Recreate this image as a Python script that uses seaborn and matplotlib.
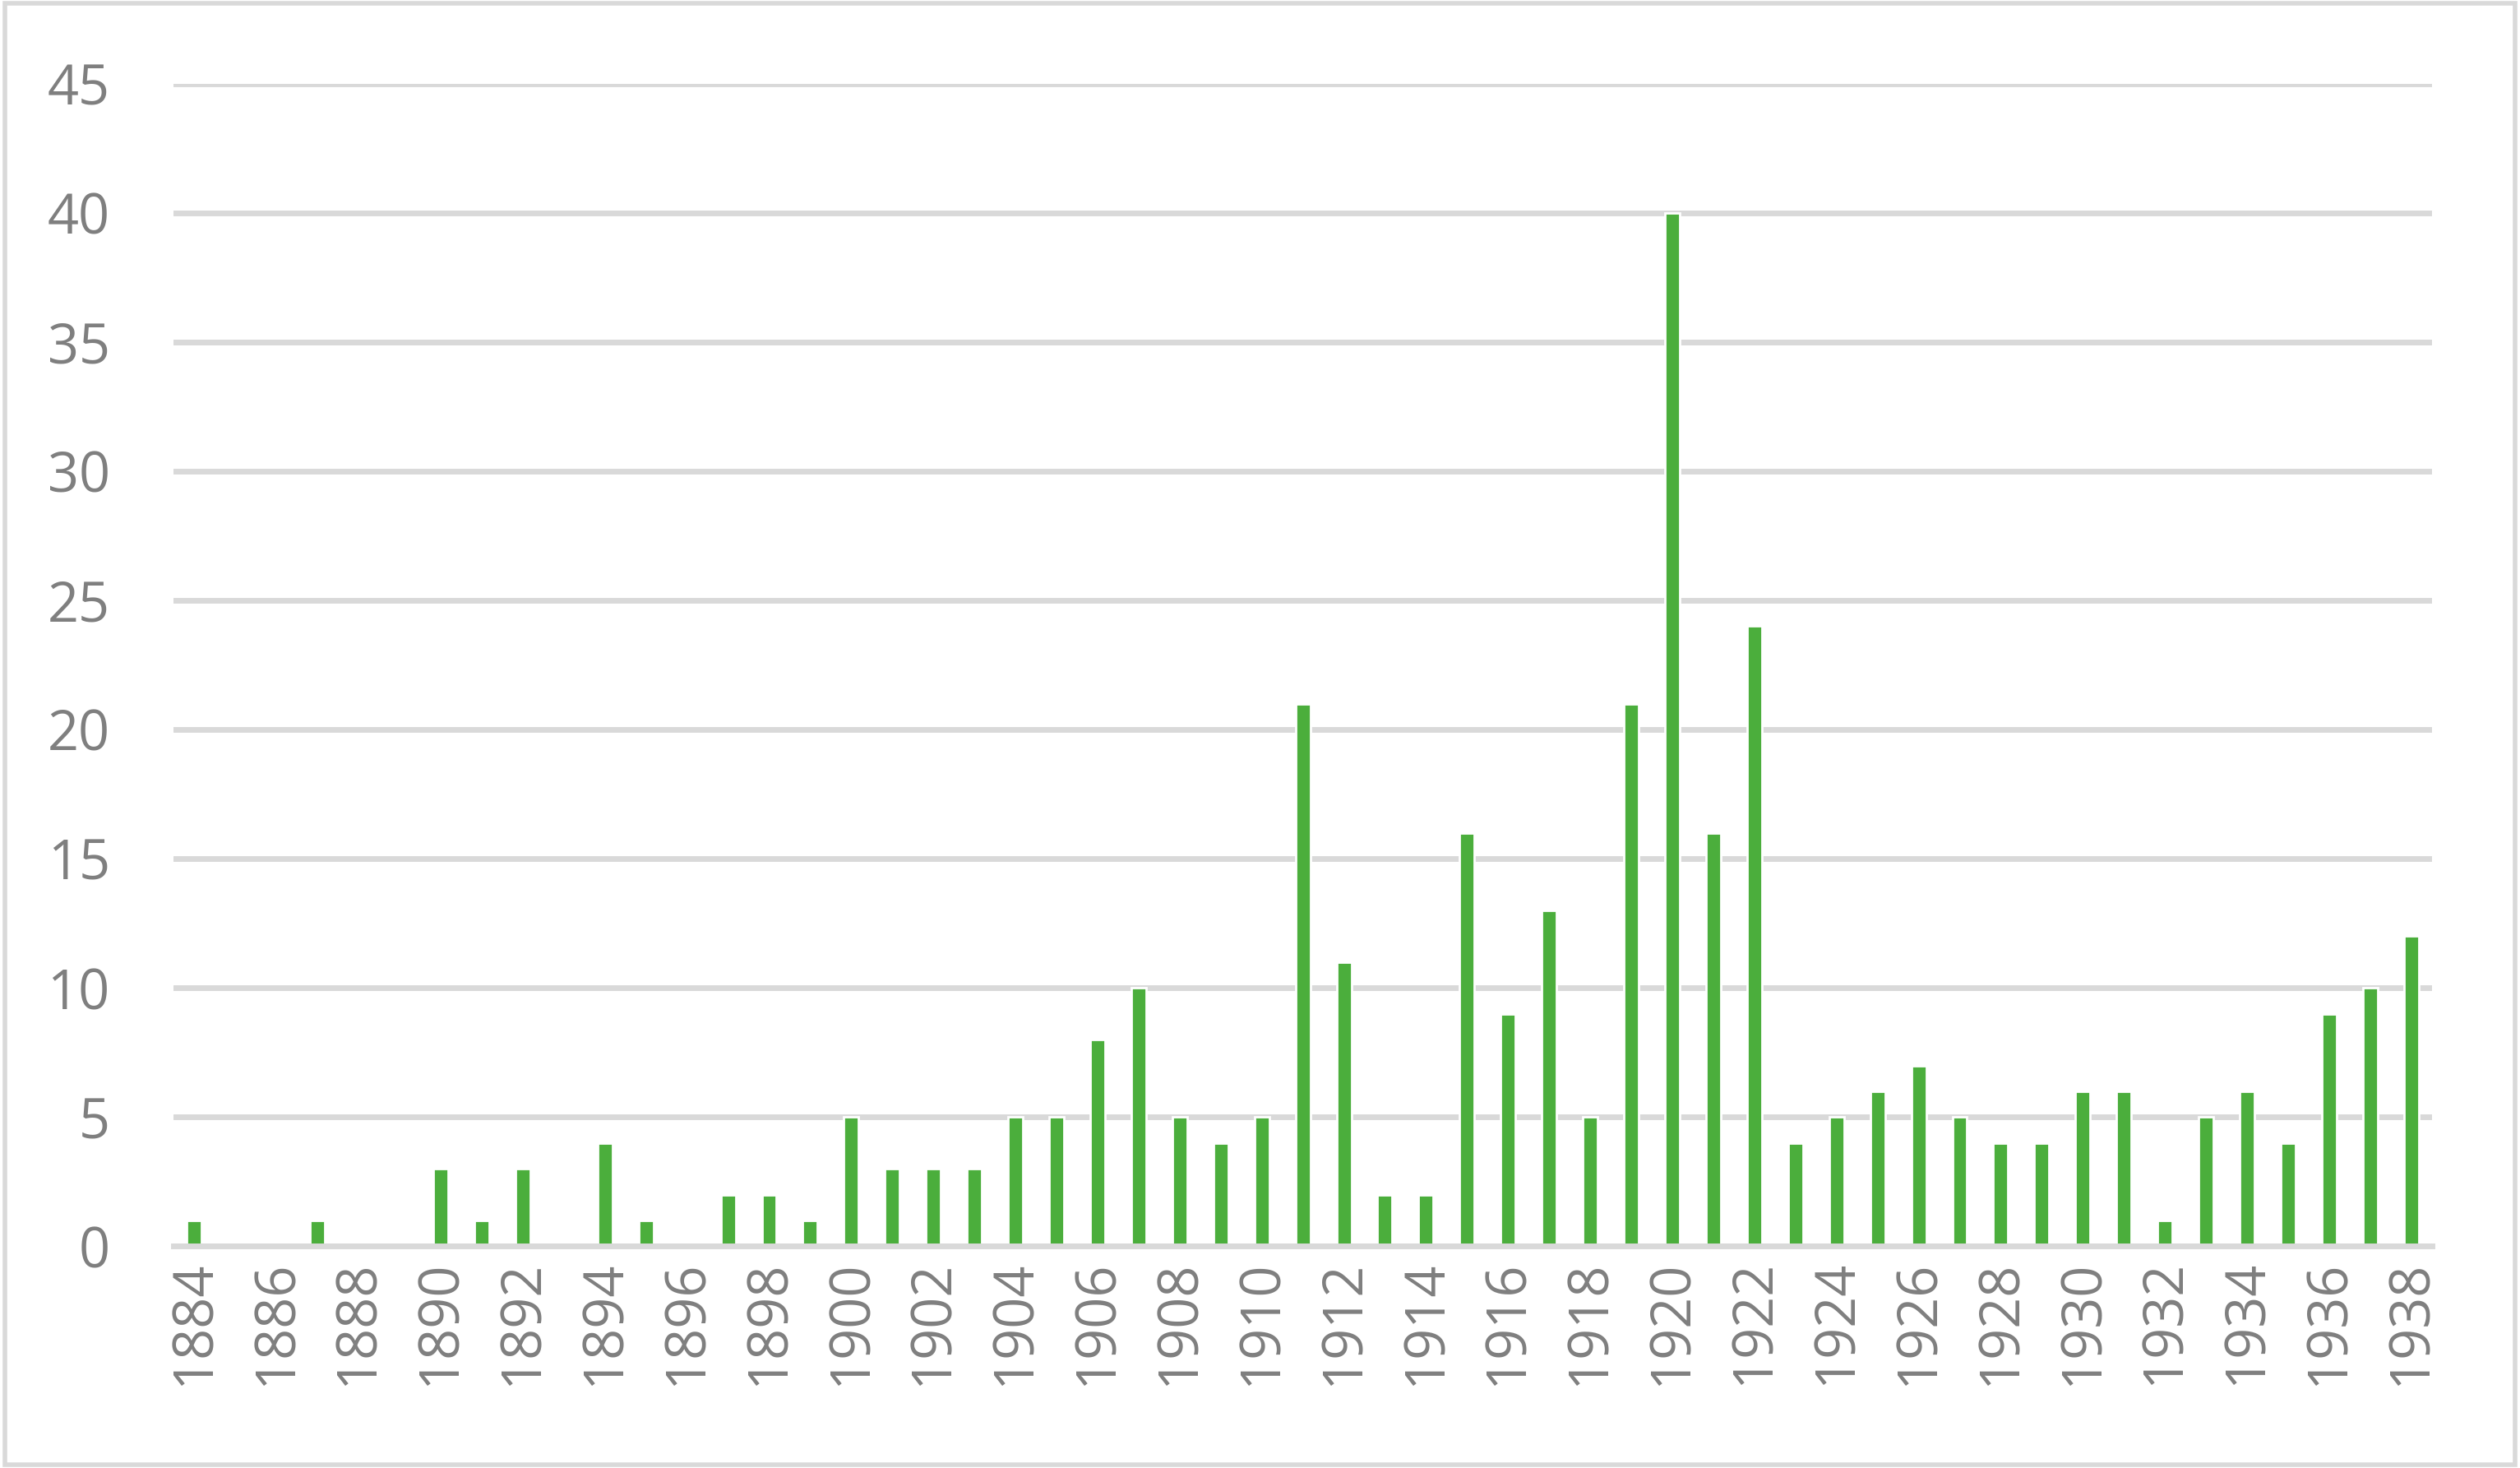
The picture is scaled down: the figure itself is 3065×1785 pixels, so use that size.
import matplotlib
matplotlib.use("Agg")
import matplotlib.pyplot as plt
import seaborn as sns
import pandas as pd

years = list(range(1884, 1939))
values = [1,0,0,1,0,0,3,1,3,0,4,1,0,2,2,1,5,3,3,3,5,5,8,10,5,4,5,21,11,2,2,16,9,13,5,21,40,16,24,4,5,6,7,5,4,4,6,6,1,5,6,4,9,10,12]
df = pd.DataFrame({"year": [str(y) for y in years], "value": values})

sns.set_theme(style="white")
plt.rcParams['font.family'] = ['Open Sans', 'DejaVu Sans']
fig = plt.figure(figsize=(15.325, 8.925), dpi=200)
ax = fig.add_axes([0.069, 0.151, 0.896, 0.792])
sns.barplot(data=df, x="year", y="value", color="#4BAE3C", width=0.36, ax=ax, saturation=1)
ax.set_xlim(-0.5, len(years) - 0.5)
ax.set_ylim(0, 45)
ax.set_yticks(range(0, 46, 5))
ax.yaxis.grid(True, color="#D9D9D9", linewidth=2.5)
ax.set_axisbelow(True)
for s in ["top", "right", "left"]:
    ax.spines[s].set_visible(False)
ax.spines["bottom"].set_color("#D9D9D9")
ax.spines["bottom"].set_linewidth(2.5)
ax.set_xticks(range(0, len(years), 2))
ax.set_xticklabels([str(y) for y in years[::2]], rotation=90)
ax.tick_params(axis="both", colors="#7F7F7F", labelsize=24, length=0)
ax.tick_params(axis="x", pad=6)
ax.tick_params(axis="y", pad=28)
ax.set_xlabel("")
ax.set_ylabel("")
fig.patches.append(plt.Rectangle((0.002, 0.002), 0.996, 0.996, transform=fig.transFigure,
                                 fill=False, edgecolor="#D9D9D9", linewidth=2))
fig.savefig("out.png", dpi=200)
